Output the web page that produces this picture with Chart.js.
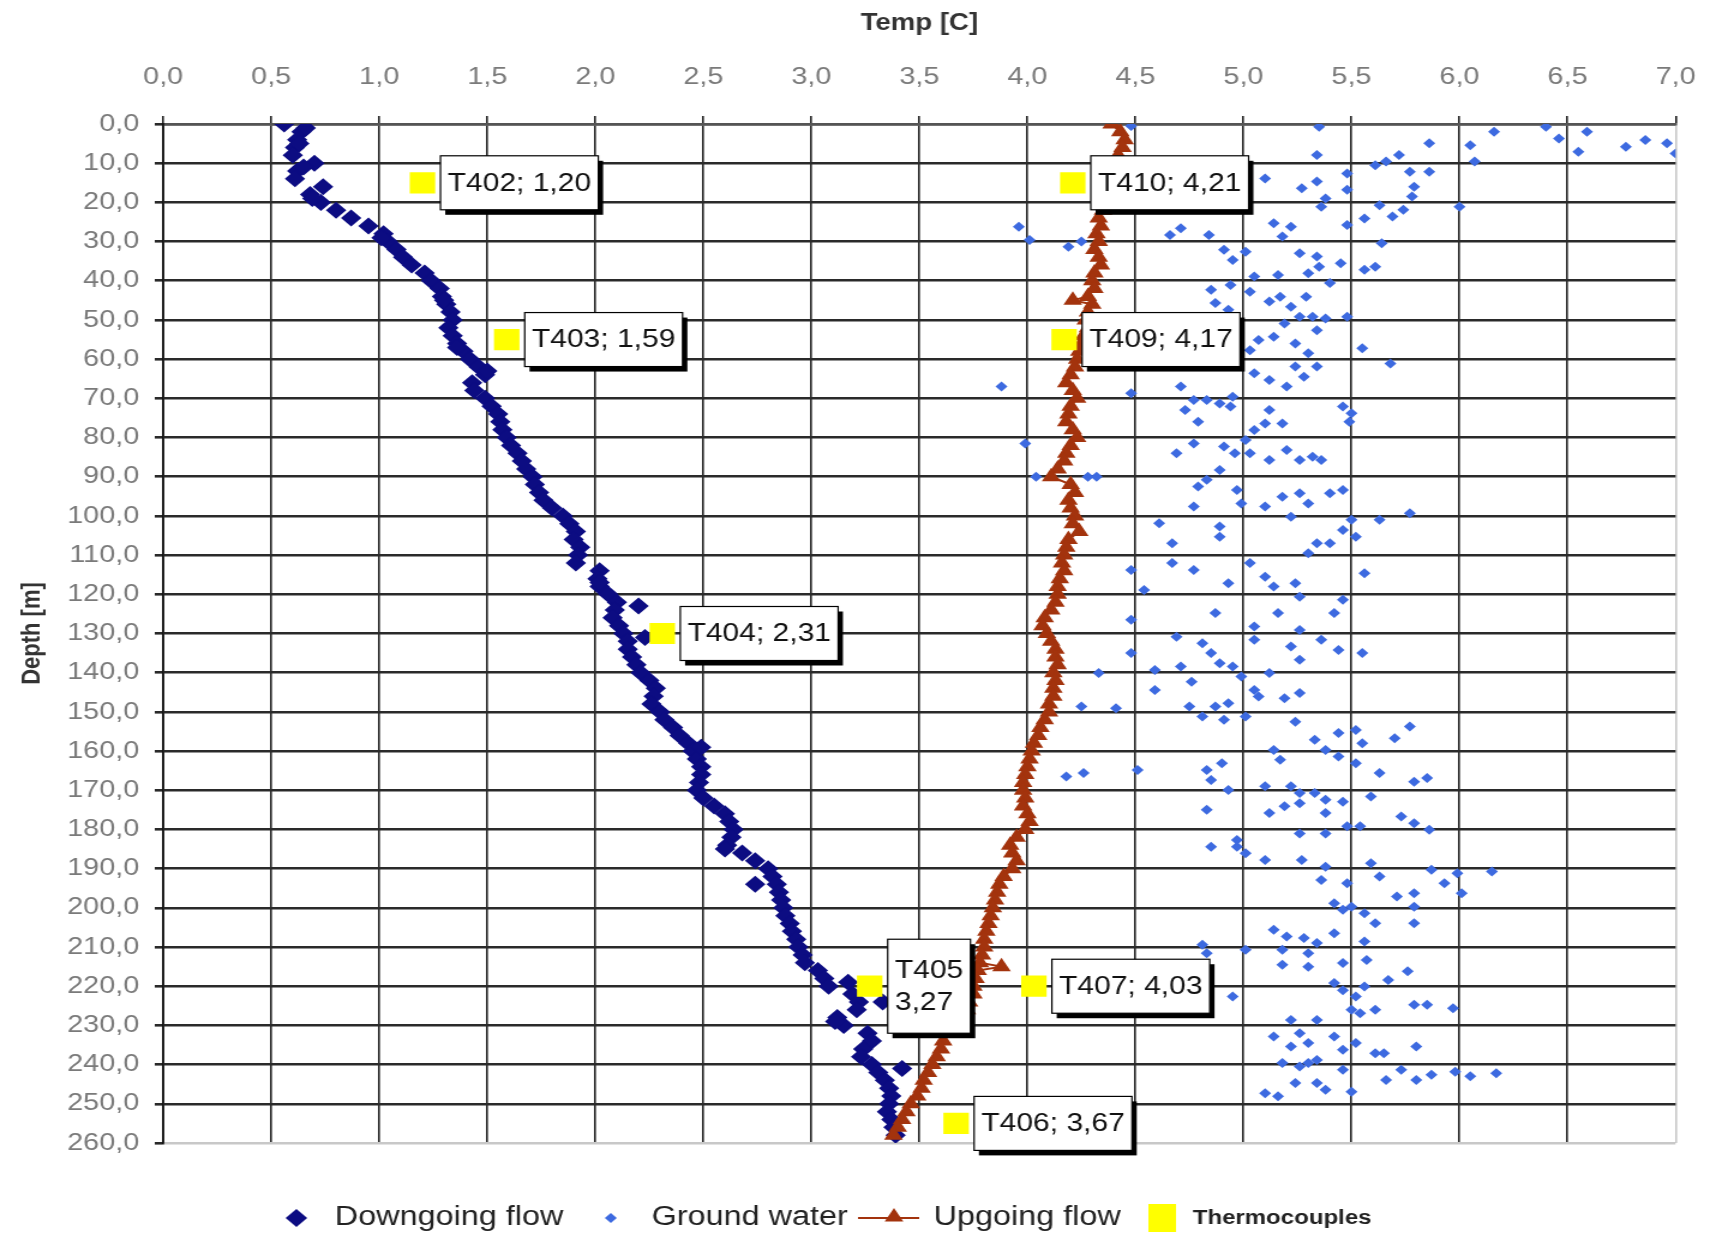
<!DOCTYPE html>
<html>
<head>
<meta charset="utf-8">
<title>Temp vs depth</title>
<script src="https://cdn.jsdelivr.net/npm/chart.js@4.4.0/dist/chart.umd.min.js"></script>
<style>
  html, body { margin: 0; padding: 0; background: #fff; overflow: hidden; }
  /* the source picture is stretched sideways, so the chart is too */
  #wrap { width: 1437px; height: 1239px; transform: scaleX(1.2); transform-origin: 0 0; }
</style>
</head>
<body>
<div id="wrap"><canvas id="chart"></canvas></div>
<script>
// [temp, depth]
const downgoingFlow = [
  [0.56,0],[0.64,2],[0.62,4],[0.61,6],[0.60,8],[0.70,10],[0.62,12],[0.61,14],[0.74,16],[0.68,18],
  [0.73,20],[0.80,22],[0.87,24],[0.95,26],[1.02,28],[1.04,30],[1.08,32],[1.11,34],[1.15,36],[1.21,38],
  [1.24,40],[1.28,42],[1.29,44],[1.31,46],[1.33,48],[1.34,50],[1.32,52],[1.34,54],[1.36,56],[1.39,58],
  [1.42,60],[1.46,62],[1.49,64],[1.43,66],[1.44,68],[1.49,70],[1.52,72],[1.55,74],[1.56,76],[1.57,78],
  [1.59,80],[1.61,82],[1.64,84],[1.66,86],[1.68,88],[1.71,90],[1.72,92],[1.74,94],[1.76,96],[1.80,98],
  [1.85,100],[1.88,102],[1.91,104],[1.90,106],[1.93,108],[1.92,110],[1.91,112],[2.02,114],[2.01,116],[2.02,118],
  [2.06,120],[2.10,122],[2.09,124],[2.08,126],[2.11,128],[2.13,130],[2.15,132],[2.15,134],[2.17,136],[2.19,138],
  [2.21,140],[2.25,142],[2.28,144],[2.27,146],[2.26,148],[2.30,150],[2.32,152],[2.36,154],[2.39,156],[2.43,158],
  [2.45,160],[2.47,162],[2.49,164],[2.49,166],[2.48,168],[2.47,170],[2.50,172],[2.55,174],[2.60,176],[2.62,178],
  [2.64,180],[2.63,182],[2.61,184],[2.68,186],[2.74,188],[2.80,190],[2.82,192],[2.84,194],[2.85,196],[2.86,198],
  [2.87,200],[2.88,202],[2.90,204],[2.91,206],[2.93,208],[2.94,210],[2.96,212],[2.97,214],[3.03,216],[3.06,218],
  [3.08,220],[3.19,222],[3.22,224],[3.21,226],[3.12,228],[3.15,230],[3.26,232],[3.28,234],[3.24,236],[3.23,238],
  [3.28,240],[3.31,242],[3.34,244],[3.36,246],[3.37,248],[3.36,250],[3.35,252],[3.37,254],[3.38,256],[3.39,258],
  [0.66,1],[0.63,5],[0.65,11],[0.69,19],[1.01,29],[1.30,45],[1.36,57],[1.50,63],[2.02,117],[2.20,123],
  [2.23,131],[2.49,159],[2.60,185],[2.74,194],[3.17,219],[3.33,224],[3.11,229],[3.42,241]
];

const groundWater = [
  [4.48,0.5],[5.35,0.7],[5.34,7.9],[5.86,4.9],[6.16,2.0],[6.05,5.4],[6.07,9.6],[6.40,0.7],[6.46,3.7],[6.59,2.0],
  [6.55,7.1],[6.77,5.8],[6.86,4.1],[6.96,4.9],[7.00,7.5],
  [5.10,13.9],[5.27,16.4],[5.34,14.7],[5.48,12.6],[5.61,10.5],[5.66,9.6],[5.72,7.9],[5.77,12.2],[5.86,12.2],[5.48,16.8],
  [5.38,19.0],[5.36,21.1],[5.79,16.0],[5.78,18.5],[5.74,21.9],[5.69,23.6],[6.00,21.1],[5.63,20.7],[5.56,24.1],[5.48,25.8],
  [5.14,25.3],[5.22,26.2],[5.18,28.7],[4.71,26.6],[4.66,28.3],[4.84,28.3],[3.96,26.2],[4.01,29.6],[4.19,31.3],[4.25,30.0],
  [5.64,30.4],[5.01,32.6],[4.91,32.1],[4.95,34.7],[5.26,33.0],[5.34,33.8],[5.35,36.4],[5.45,35.5],[5.56,37.2],[5.61,36.4],
  [5.40,40.6],[5.30,38.1],[5.05,38.9],[5.03,42.8],[4.85,42.3],[4.94,41.1],[5.16,38.5],[5.17,44.1],[5.12,45.3],[4.87,45.7],
  [4.93,47.4],[5.22,46.6],[5.29,44.1],[5.26,49.2],[5.32,49.2],[5.38,49.6],[5.48,49.2],[5.19,50.9],[5.34,52.6],[5.07,55.1],
  [5.03,57.7],[5.14,54.3],[5.24,56.0],[5.30,58.5],[5.34,61.9],[5.24,61.9],[5.05,63.6],[5.12,65.3],[5.20,67.0],[5.28,64.5],
  [5.55,57.2],[5.68,61.1],
  [3.88,67.0],[4.48,68.7],[4.71,67.0],[4.77,70.4],[4.83,70.4],[4.89,71.3],[4.94,72.1],[4.73,73.0],[4.79,76.0],[4.95,69.6],
  [5.12,73.0],[5.10,76.4],[5.18,76.4],[5.05,78.1],[5.01,80.6],[5.46,72.1],[5.50,73.8],[5.49,76.0],
  [3.99,81.5],[4.04,90.0],[4.28,90.0],[4.32,90.0],[4.69,84.0],[4.77,81.5],[4.91,82.3],[4.96,84.0],[5.03,84.0],[5.12,85.7],
  [5.20,83.2],[5.26,85.7],[5.32,84.9],[5.36,85.7],[4.89,88.3],[4.83,90.8],[4.79,92.5],[4.97,93.4],[4.77,97.6],[4.99,96.8],
  [5.10,97.6],[5.18,95.1],[5.26,94.2],[5.30,96.8],[5.22,100.2],[5.40,94.2],[5.46,93.4],
  [4.61,101.9],[4.89,102.7],[4.89,105.3],[4.67,107.0],[4.67,112.0],[4.77,113.8],[4.48,113.8],[4.54,118.9],[4.48,126.5],[4.93,117.2],
  [5.03,112.0],[5.10,115.5],[5.14,118.0],[5.24,117.2],[5.26,120.6],[5.30,109.5],[5.34,107.0],[5.40,107.0],[5.46,103.6],[5.50,101.0],
  [5.52,105.3],[5.63,101.0],[5.77,99.3],[5.56,114.6],[5.46,121.4],[5.42,124.8],[5.16,124.8],[5.05,128.2],[5.26,129.1],[4.87,124.8],
  [4.48,135.0],[4.33,140.1],[4.59,139.3],[4.59,144.4],[4.71,138.4],[4.76,142.3],[4.69,130.8],[4.81,132.5],[4.85,135.0],[4.89,137.6],
  [4.95,138.4],[4.99,141.0],[5.05,131.6],[5.12,140.1],[5.05,144.4],[5.22,133.3],[5.26,136.7],[5.36,131.6],[5.44,134.2],[5.55,135.0],
  [4.25,148.6],[4.41,149.1],[4.75,148.6],[4.81,151.2],[4.87,148.6],[4.93,147.8],[4.91,152.0],[5.01,151.2],[5.07,146.1],[5.19,146.5],
  [5.26,145.2],[5.24,152.5],
  [4.18,166.5],[4.26,165.6],[4.51,164.8],[4.83,164.8],[4.85,167.4],[4.90,163.1],[4.93,169.9],[4.83,175.0],[5.14,159.7],[5.17,162.2],
  [5.10,169.0],[5.22,169.0],[5.26,170.7],[5.33,170.7],[5.19,174.1],[5.26,173.3],[5.12,175.8],[5.33,157.1],[5.38,159.7],[5.44,161.4],
  [5.44,155.4],[5.52,154.6],[5.55,158.0],[5.52,163.1],[5.70,156.7],[5.77,153.7],[5.63,165.6],[5.79,167.8],[5.85,166.9],[5.38,172.4],
  [5.38,175.8],[5.46,172.9],[5.59,171.6],
  [5.26,181.0],[5.38,181.0],[5.48,179.2],[5.54,179.2],[5.73,176.7],[5.79,178.4],[5.86,180.1],[4.85,184.4],[4.97,184.4],[5.01,186.1],
  [5.10,187.8],[4.97,182.7],[5.27,187.8],[5.38,189.5],[5.36,192.9],[5.48,193.7],[5.59,188.6],[5.63,192.0],[5.71,197.1],[5.79,196.3],
  [5.87,190.3],[5.93,193.7],[5.99,191.2],[6.01,196.3],[6.15,190.7],
  [5.42,198.8],[5.46,200.5],[5.50,199.7],[5.56,201.4],[5.61,203.9],[5.79,199.7],[5.79,203.9],[5.14,205.6],[5.20,207.3],[5.28,207.7],
  [5.34,209.0],[5.42,206.5],[5.56,208.6],[5.18,210.7],[5.30,211.6],[4.81,209.4],[4.83,211.6],[5.01,210.7],[5.18,214.5],[5.30,215.0],
  [5.46,214.1],[5.57,213.3],[5.67,218.4],[5.76,216.2],[5.42,219.2],[5.46,221.0],[5.52,222.6],[5.56,220.1],[5.50,226.0],[5.54,226.9],
  [5.61,226.0],[4.95,222.6],[5.79,224.7],[5.85,224.7],[5.97,225.6],
  [5.14,232.8],[5.22,228.6],[5.26,232.0],[5.34,228.6],[5.30,234.5],[5.22,235.4],[5.42,232.8],[5.46,236.2],[5.52,234.5],[5.61,237.1],
  [5.65,237.1],[5.80,235.4],[5.18,239.6],[5.26,240.5],[5.30,239.6],[5.34,238.8],[5.46,241.3],[5.66,243.9],[5.73,241.3],[5.80,243.9],
  [5.87,242.6],[5.98,241.8],[6.05,243.0],[6.17,242.2],[5.10,247.3],[5.16,248.1],[5.24,244.7],[5.34,244.7],[5.38,246.4],[5.50,246.9]
];

const upgoingFlow = [
  [4.39,0],[4.43,2],[4.45,4],[4.44,6],[4.42,8],[4.41,10],[4.40,12],[4.38,14],[4.37,16],[4.36,18],
  [4.37,20],[4.35,22],[4.33,24],[4.34,26],[4.32,28],[4.33,30],[4.31,32],[4.33,34],[4.34,36],[4.31,38],
  [4.30,40],[4.31,42],[4.28,44],[4.21,45],[4.30,46],[4.28,48],[4.27,50],[4.28,52],[4.26,54],[4.25,56],
  [4.24,58],[4.23,60],[4.22,62],[4.20,64],[4.18,66],[4.21,68],[4.23,70],[4.20,72],[4.19,74],[4.18,76],
  [4.21,78],[4.23,80],[4.20,82],[4.18,84],[4.17,86],[4.14,88],[4.11,90],[4.20,92],[4.22,94],[4.19,96],
  [4.20,98],[4.22,100],[4.21,102],[4.24,104],[4.19,106],[4.18,108],[4.17,110],[4.16,112],[4.17,114],[4.15,116],
  [4.14,118],[4.14,120],[4.13,122],[4.11,124],[4.08,126],[4.07,128],[4.09,130],[4.11,132],[4.13,134],[4.13,136],
  [4.14,138],[4.12,140],[4.13,142],[4.12,144],[4.12,146],[4.10,148],[4.10,150],[4.08,152],[4.06,154],[4.05,156],
  [4.03,158],[4.02,160],[4.01,162],[4.00,164],[3.99,166],[3.98,168],[3.98,170],[3.99,172],[3.98,174],[4.00,176],
  [4.01,178],[3.99,180],[3.95,182],[3.92,184],[3.93,186],[3.95,188],[3.93,190],[3.89,192],[3.87,194],[3.86,196],
  [3.85,198],[3.84,200],[3.83,202],[3.82,204],[3.81,206],[3.80,208],[3.80,210],[3.79,212],[3.78,214],[3.88,215],
  [3.77,216],[3.76,218],[3.75,220],[3.75,222],[3.73,224],[3.72,226],[3.71,228],[3.68,230],[3.64,232],[3.61,234],
  [3.60,236],[3.58,238],[3.56,240],[3.54,242],[3.52,244],[3.51,246],[3.49,248],[3.46,250],[3.44,252],[3.42,254],
  [3.40,256],[3.38,258]
];

const thermoNames = ['T402', 'T403', 'T404', 'T405', 'T406', 'T407', 'T409', 'T410'];
const thermoTemp = [1.20, 1.59, 2.31, 3.27, 3.67, 4.03, 4.17, 4.21];
const thermoDepth = [15, 55, 130, 220, 255, 220, 55, 15];

const xTicks = [0, 0.5, 1, 1.5, 2, 2.5, 3, 3.5, 4, 4.5, 5, 5.5, 6, 6.5, 7];

const FONT = '"Liberation Sans", Arial, sans-serif';
const comma = (v) => v.toFixed(1).replace('.', ',');
const toXY = (arr) => arr.map(([t, d]) => ({ x: t, y: d }));

// boxed labels next to the yellow squares
const thermoLabels = {
  id: 'thermoLabels',
  afterDraw(chart) {
    const ctx = chart.ctx;
    const meta = chart.getDatasetMeta(3);
    ctx.save();
    ctx.font = '25px ' + FONT;
    ctx.textBaseline = 'middle';
    meta.data.forEach((pt, i) => {
      const val = thermoTemp[i].toFixed(2).replace('.', ',');
      const lines = thermoNames[i] === 'T405' ? [thermoNames[i], val] : [thermoNames[i] + '; ' + val];
      const w = Math.max(...lines.map(l => ctx.measureText(l).width)) + 12;
      const h = lines.length === 1 ? 54 : 94;
      const x = pt.x + 15;
      const y = pt.y - h / 2;
      ctx.fillStyle = '#000';
      ctx.fillRect(x + 4, y + 5, w, h);
      ctx.fillStyle = '#fff';
      ctx.fillRect(x, y, w, h);
      ctx.strokeStyle = '#000';
      ctx.lineWidth = 1.2;
      ctx.strokeRect(x, y, w, h);
      ctx.fillStyle = '#111';
      lines.forEach((l, k) => ctx.fillText(l, x + 6, pt.y + (k - (lines.length - 1) / 2) * 32 + 1));
    });
    ctx.restore();
  }
};

// legend row under the plot
const bottomLegend = {
  id: 'bottomLegend',
  afterDraw(chart) {
    const ctx = chart.ctx;
    const ds = chart.data.datasets;
    const y = 1218;
    ctx.save();
    ctx.textBaseline = 'middle';
    ctx.fillStyle = '#222';
    ctx.font = '27px ' + FONT;

    ctx.fillStyle = ds[0].backgroundColor;
    Chart.helpers.drawPoint(ctx, { pointStyle: 'rectRot', radius: 9, borderWidth: 0 }, 247, y);
    ctx.fillStyle = '#222';
    ctx.fillText(ds[0].label, 279, y);

    ctx.fillStyle = ds[1].backgroundColor;
    Chart.helpers.drawPoint(ctx, { pointStyle: 'rectRot', radius: 5, borderWidth: 0 }, 509, y);
    ctx.fillStyle = '#222';
    ctx.fillText(ds[1].label, 543, y);

    ctx.strokeStyle = ds[2].borderColor;
    ctx.lineWidth = 2;
    ctx.beginPath();
    ctx.moveTo(715, y);
    ctx.lineTo(766, y);
    ctx.stroke();
    ctx.fillStyle = ds[2].backgroundColor;
    Chart.helpers.drawPoint(ctx, { pointStyle: 'triangle', radius: 9, borderWidth: 0 }, 745, y - 1);
    ctx.fillStyle = '#222';
    ctx.fillText(ds[2].label, 778, y);

    ctx.fillStyle = ds[3].backgroundColor;
    ctx.fillRect(957, y - 14, 23, 28);
    ctx.fillStyle = '#222';
    ctx.font = 'bold 20px ' + FONT;
    ctx.fillText(ds[3].label, 994, y);
    ctx.restore();
  }
};

new Chart(document.getElementById('chart'), {
  type: 'scatter',
  data: {
    datasets: [
      {
        label: 'Downgoing flow',
        data: toXY(downgoingFlow),
        backgroundColor: '#0c0c82',
        borderWidth: 0,
        pointStyle: 'rectRot',
        pointRadius: 8.5,
        order: 3
      },
      {
        label: 'Ground water',
        data: toXY(groundWater),
        backgroundColor: '#3d6ae0',
        borderWidth: 0,
        pointStyle: 'rectRot',
        pointRadius: 5,
        order: 2
      },
      {
        label: 'Upgoing flow',
        data: toXY(upgoingFlow),
        showLine: true,
        borderColor: '#a3330d',
        borderWidth: 2,
        backgroundColor: '#a3330d',
        pointBorderWidth: 0,
        pointStyle: 'triangle',
        pointRadius: 9,
        order: 1
      },
      {
        label: 'Thermocouples',
        data: thermoTemp.map((t, i) => ({ x: t, y: thermoDepth[i] })),
        backgroundColor: '#ffff00',
        borderWidth: 0,
        pointStyle: 'rect',
        pointRadius: 15,
        order: 0
      }
    ]
  },
  options: {
    responsive: true,
    maintainAspectRatio: false,
    animation: false,
    events: [],
    layout: { padding: { left: 0, right: 26, top: 0, bottom: 96 } },
    plugins: {
      legend: { display: false },
      tooltip: { enabled: false }
    },
    scales: {
      x: {
        type: 'linear',
        position: 'top',
        min: 0,
        max: 7,
        afterBuildTicks: (scale) => { scale.ticks = xTicks.map(v => ({ value: v })); },
        afterFit: (scale) => { scale.height = 124; },
        title: {
          display: true,
          text: 'Temp [C]',
          color: '#333',
          font: { family: FONT, size: 23, weight: 'bold' },
          padding: { top: 10, bottom: 0 }
        },
        ticks: {
          color: '#7a7a7a',
          font: { family: FONT, size: 24 },
          padding: 24,
          maxRotation: 0,
          callback: (v) => comma(v)
        },
        grid: {
          color: (c) => (c.tick && c.tick.value === 7 ? '#c8c8c8' : '#1e1e1e'),
          lineWidth: 1.6,
          tickLength: 8,
          tickColor: '#1e1e1e'
        },
        border: { display: true, color: '#555', width: 2.5 }
      },
      y: {
        type: 'linear',
        reverse: true,
        min: 0,
        max: 260,
        ticks: {
          stepSize: 10,
          color: '#7a7a7a',
          font: { family: FONT, size: 24 },
          padding: 13,
          callback: (v) => comma(v)
        },
        afterFit: (scale) => { scale.width = 136; },
        title: {
          display: true,
          text: 'Depth [m]',
          color: '#333',
          font: { family: FONT, size: 22, weight: 'bold' },
          padding: { top: 14, bottom: 0 }
        },
        grid: {
          color: (c) => (c.tick && c.tick.value === 260 ? '#c8c8c8' : '#2a2a2a'),
          lineWidth: 2.6,
          tickLength: 7,
          tickColor: '#2a2a2a'
        },
        border: { display: true, color: '#111', width: 1.8 }
      }
    }
  },
  plugins: [thermoLabels, bottomLegend]
});
</script>
</body>
</html>
